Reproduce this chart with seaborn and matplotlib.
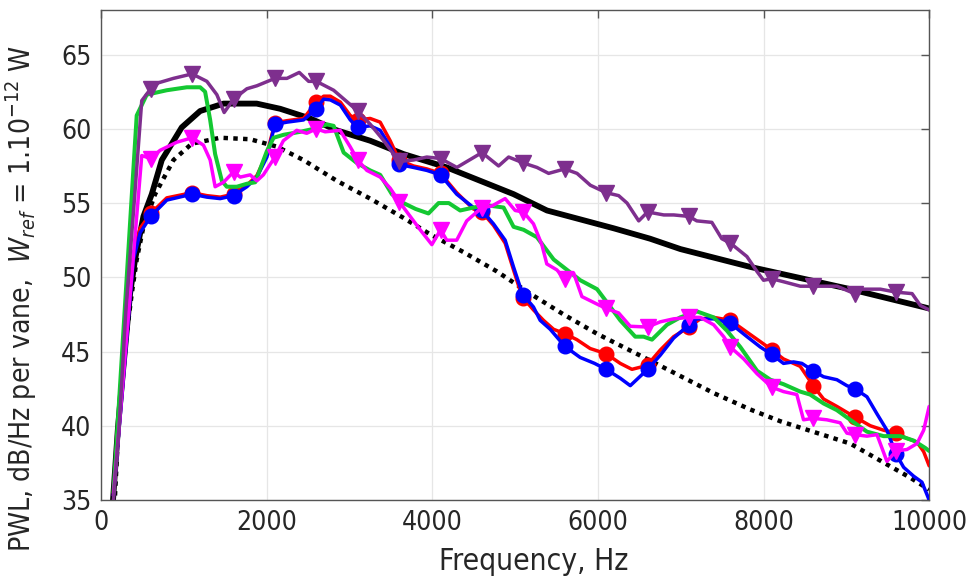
import numpy as np
import pandas as pd
import matplotlib
matplotlib.use("Agg")
import matplotlib.pyplot as plt
import seaborn as sns

# ---------------- data ----------------
marker_freqs = [600, 1100, 1600, 2100, 2600, 3100, 3600, 4100, 4600, 5100,
                5600, 6100, 6600, 7100, 7600, 8100, 8600, 9100, 9600]

solid_f = [145, 205, 278, 351, 411, 512, 613, 734, 855, 975, 1197, 1480, 1880, 2164,
           2525, 2847, 3250, 3653, 4176, 4982, 5385, 6191, 6630, 6997, 7839, 9048, 10000]
solid_v = [35, 39.9, 44.45, 48.9, 51.2, 54.1, 55.6, 57.9, 59.0, 60.1, 61.2, 61.7, 61.7, 61.35,
           60.7, 59.9, 59.2, 58.3, 57.4, 55.6, 54.5, 53.3, 52.6, 51.9, 50.7, 49.2, 47.9]

dot_f = [169, 210, 270, 371, 431, 512, 653, 875, 1096, 1439, 1801, 2124, 2444, 2847, 3250,
         3653, 3973, 4376, 4779, 5182, 5585, 5988, 6592, 7398, 7838, 8204, 9047, 9772, 10000]
dot_v = [35.3, 40.0, 44.45, 48.9, 51.2, 53.4, 55.6, 57.9, 59.0, 59.4, 59.3, 58.8, 57.9, 56.5, 55.3,
         54.0, 52.9, 51.7, 50.4, 48.9, 47.5, 46.2, 44.5, 42.2, 41.1, 40.3, 38.8, 36.5, 35.7]

red_f = [150, 391, 472, 600, 794, 1100, 1278, 1439, 1600, 1761,
         1882, 2003, 2100, 2245, 2446, 2600, 2688, 2769, 2890, 3010,
         3100, 3250, 3371, 3492, 3600, 3773, 3934, 4100, 4295, 4497,
         4600, 4739, 4880, 4981, 5061, 5100, 5222, 5343, 5464, 5600,
         5746, 5907, 6100, 6270, 6411, 6552, 6600, 6753, 6914, 7100,
         7237, 7398, 7600, 7801, 8003, 8100, 8241, 8443, 8600, 8725,
         8886, 9007, 9100, 9289, 9450, 9600, 9732, 9853, 9934, 10000]
red_v = [35.5, 51.5, 53.3, 54.3, 55.35, 55.7, 55.5, 55.4, 55.6, 56.2,
         56.85, 58.3, 60.4, 60.55, 60.7, 61.8, 62.2, 62.2, 61.8, 60.9,
         60.6, 60.7, 60.45, 59.2, 57.9, 57.5, 57.3, 57.0, 55.7, 54.6,
         54.4, 53.5, 52.3, 50.5, 49.1, 48.6, 47.8, 47.1, 46.5, 46.2,
         45.8, 45.2, 44.85, 44.2, 43.8, 44.0, 44.1, 45.1, 46.0, 46.65,
         47.2, 47.3, 47.1, 46.3, 45.5, 45.1, 44.5, 44.0, 42.7, 41.8,
         41.3, 40.9, 40.6, 40.0, 39.7, 39.5, 39.15, 38.9, 38.25, 37.3]

blue_f = [150, 391, 472, 600, 794, 1100, 1278, 1439, 1600, 1761,
          1882, 2003, 2100, 2245, 2446, 2600, 2688, 2769, 2890, 3010,
          3100, 3250, 3371, 3492, 3600, 3773, 3934, 4100, 4295, 4497,
          4600, 4739, 4880, 4981, 5061, 5100, 5222, 5303, 5424, 5600,
          5786, 5960, 6100, 6270, 6391, 6600, 6753, 6914, 7100, 7197,
          7398, 7600, 7801, 7962, 8100, 8241, 8362, 8463, 8600, 8725,
          8886, 9007, 9100, 9249, 9370, 9490, 9600, 9692, 9813, 9913,
          10000]
blue_v = [35.3, 51.2, 53.0, 54.1, 55.2, 55.6, 55.4, 55.3, 55.5, 56.1,
          56.75, 58.1, 60.3, 60.45, 60.6, 61.35, 62.0, 61.95, 61.6, 60.6,
          60.1, 60.2, 59.9, 58.8, 57.6, 57.4, 57.2, 56.9, 55.6, 54.7,
          54.5, 53.6, 52.5, 50.7, 49.35, 48.8, 48.0, 47.1, 46.5, 45.35,
          44.6, 44.2, 43.8, 43.2, 42.7, 43.8, 44.75, 45.9, 46.8, 47.2,
          47.2, 46.9, 46.0, 45.3, 44.8, 44.2, 44.3, 44.2, 43.7, 43.3,
          43.1, 42.7, 42.5, 41.95, 40.8, 39.7, 38.1, 37.2, 36.6, 36.2,
          35.0]

green_f = [150, 431, 552, 794, 1036, 1197, 1257, 1318, 1378, 1459,
           1519, 1640, 1761, 1862, 2003, 2084, 2205, 2406, 2567, 2728,
           2809, 2930, 3089, 3250, 3371, 3512, 3653, 3800, 3954, 4076,
           4200, 4337, 4498, 4660, 4861, 4982, 5103, 5264, 5466, 5627,
           5788, 5990, 6151, 6270, 6451, 6552, 6653, 6834, 6995, 7197,
           7398, 7559, 7720, 7922, 8083, 8241, 8443, 8563, 8725, 8886,
           9047, 9249, 9450, 9652, 9813, 9954, 10000]
green_v = [35.5, 60.9, 62.3, 62.6, 62.8, 62.8, 62.5, 60.6, 58.3, 56.5,
           56.1, 56.1, 56.3, 56.4, 58.5, 59.4, 59.6, 59.8, 60.0, 60.3,
           60.2, 58.4, 57.7, 57.2, 56.9, 55.6, 55.0, 54.6, 54.3, 55.0,
           55.0, 54.5, 54.7, 54.85, 54.7, 53.4, 53.2, 52.7, 51.2, 50.5,
           49.8, 49.2, 48.0, 47.1, 46.0, 46.0, 45.8, 46.8, 47.3, 47.7,
           47.3, 46.4, 45.3, 43.7, 43.1, 42.8, 42.3, 42.1, 41.5, 41.05,
           40.4, 39.6, 39.3, 39.3, 39.0, 38.5, 38.3]

magenta_f = [150, 492, 600, 713, 915, 1100, 1237, 1318, 1378, 1479,
             1600, 1681, 1801, 1882, 1960, 2100, 2202, 2363, 2484, 2600,
             2706, 2887, 3008, 3100, 3210, 3371, 3492, 3600, 3734, 3854,
             3995, 4100, 4175, 4295, 4416, 4600, 4719, 4880, 5001, 5100,
             5222, 5323, 5383, 5504, 5600, 5706, 5807, 5988, 6100, 6250,
             6391, 6600, 6753, 6914, 7100, 7237, 7398, 7519, 7600, 7761,
             7922, 8100, 8241, 8402, 8483, 8600, 8765, 8926, 9007, 9100,
             9249, 9370, 9490, 9600, 9732, 9853, 9934, 10000]
magenta_v = [35.3, 58.2, 58.0, 58.55, 59.1, 59.4, 58.9, 57.9, 56.1, 56.4,
             57.1, 56.75, 56.9, 56.5, 56.9, 58.1, 59.2, 59.9, 59.7, 60.0,
             59.8, 59.9, 58.8, 57.9, 57.2, 56.75, 56.0, 55.1, 54.1, 53.2,
             52.2, 53.2, 52.5, 52.5, 53.8, 54.7, 54.8, 55.3, 54.5, 54.4,
             53.6, 52.2, 50.9, 50.5, 49.9, 50.3, 48.7, 48.2, 47.9, 47.6,
             46.7, 46.65, 47.0, 47.2, 47.3, 47.3, 46.8, 46.0, 45.3, 44.5,
             43.5, 42.6, 42.3, 42.1, 40.4, 40.5, 40.4, 40.2, 39.5, 39.4,
             39.3, 39.4, 37.6, 38.3, 38.4, 38.8, 39.7, 41.3]

purple_f = [150, 220, 300, 400, 492, 600, 693, 875, 1100, 1278,
            1399, 1487, 1600, 1761, 1882, 2100, 2245, 2394, 2507, 2600,
            2809, 3100, 3252, 3400, 3600, 3773, 3934, 4100, 4297, 4418,
            4600, 4801, 4922, 5100, 5264, 5405, 5600, 5748, 5909, 6100,
            6251, 6352, 6493, 6600, 6796, 6916, 7100, 7194, 7376, 7496,
            7600, 7799, 7920, 8000, 8100, 8242, 8444, 8600, 8887, 9100,
            9169, 9411, 9600, 9794, 9894, 10000]
purple_v = [35, 40, 47.8, 55, 61.9, 62.7, 63.1, 63.4, 63.7, 63.2,
            62.3, 61.1, 62.0, 62.7, 62.9, 63.4, 63.4, 63.8, 63.2, 63.2,
            62.6, 61.2, 60.3, 59.3, 57.8, 57.9, 58.1, 58.0, 57.4, 57.8,
            58.4, 57.5, 58.1, 57.7, 57.4, 57.0, 57.3, 57.0, 56.2, 55.7,
            55.5, 55.0, 53.8, 54.4, 54.2, 54.2, 54.1, 53.8, 53.7, 52.6,
            52.3, 51.4, 50.4, 49.8, 49.9, 49.7, 49.4, 49.4, 49.4, 48.9,
            49.2, 49.2, 49.0, 48.9, 48.1, 47.8]

x_ticks = [0, 2000, 4000, 6000, 8000, 10000]
y_ticks = [35, 40, 45, 50, 55, 60, 65]

# ---------------- figure ----------------
sns.set_theme(style="white")
plt.rcParams['font.family'] = ['DejaVu Sans']
plt.rcParams['font.stretch'] = 'condensed'
plt.rcParams['mathtext.fontset'] = 'dejavusans'

fig = plt.figure(figsize=(9.76, 5.76), dpi=100)
ax = fig.add_axes([0.1035, 0.132, 0.8485, 0.8505])

def draw(f, v, color, lw, marker=None, ms=10, ls='-', z=2):
    df = pd.DataFrame({"f": f, "v": v})
    kw = {}
    if marker is not None:
        mask = list(np.isin(df["f"].values, marker_freqs))
        kw = dict(marker=marker, markevery=mask, markersize=ms,
                  markerfacecolor=color, markeredgecolor=color, markeredgewidth=1)
    sns.lineplot(data=df, x="f", y="v", ax=ax, color=color, linewidth=lw,
                 linestyle=ls, estimator=None, sort=False, zorder=z, **kw)

draw(solid_f, solid_v, 'black', 4.2, z=2)
draw(dot_f, dot_v, 'black', 3.2, ls=(0, (1, 1.2)), z=2.1)
draw(red_f, red_v, '#FF0000', 2.5, marker='o', ms=10.5, z=3)
draw(blue_f, blue_v, '#0000FF', 2.5, marker='o', ms=10.5, z=3.1)
draw(green_f, green_v, '#14C832', 2.9, z=3.2)
draw(magenta_f, magenta_v, '#FF00FF', 2.5, marker='v', ms=11.5, z=3.3)
draw(purple_f, purple_v, '#7E2F8E', 2.5, marker='v', ms=11.5, z=3.4)

ax.set_xlim(0, 10000)
ax.set_ylim(35, 68)
ax.set_xticks(x_ticks)
ax.set_yticks(y_ticks)
ax.set_xticklabels([str(t) for t in x_ticks], fontstretch='condensed')
ax.set_yticklabels([str(t) for t in y_ticks], fontstretch='condensed')

ax.grid(True, color='#e6e6e6', linewidth=0.9, zorder=0)
ax.set_axisbelow(True)
for s in ax.spines.values():
    s.set_visible(True)
    s.set_color('#555555')
    s.set_linewidth(1.0)
ax.tick_params(axis='both', which='major', direction='in', length=6, width=1,
               color='#555555', labelsize=19, labelcolor='#262626',
               top=True, right=True, pad=7)

ax.set_xlabel('Frequency, Hz', fontsize=21.5, color='#262626',
              fontstretch='condensed')
ax.xaxis.set_label_coords(0.522, -0.095)
ax.set_ylabel(r'PWL, dB/Hz per vane,  $W_{ref}$ = 1.10$^{-12}$ W',
              fontsize=20.3, color='#262626', fontstretch='condensed')
ax.yaxis.set_label_coords(-0.075, 0.412)

fig.savefig('out.png', dpi=100)
